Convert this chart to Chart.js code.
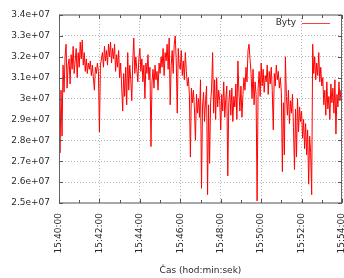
<!DOCTYPE html>
<html>
<head>
<meta charset="utf-8">
<script src="https://cdn.jsdelivr.net/npm/chart.js@4.4.0/dist/chart.umd.min.js"></script>
<style>
html, body { margin: 0; padding: 0; background: #fff; }
#obal { width: 344px; height: 278px; position: relative; }
</style>
</head>
<body>
<div id="obal"><canvas id="bytyChart"></canvas></div>
<script>
// ========== DATA ==========
const KROK_S = 3;            // jeden vzorek každé 3 s od 15:40:00
const DELKA_S = 840;         // 15:40:00 .. 15:54:00
const casoveZnacky = ['15:40:00', '15:42:00', '15:44:00', '15:46:00', '15:48:00', '15:50:00', '15:52:00', '15:54:00'];
const yZnacky = ['2.5e+07', '2.6e+07', '2.7e+07', '2.8e+07', '2.9e+07', '3e+07', '3.1e+07', '3.2e+07', '3.3e+07', '3.4e+07'];
const nazevRady = 'Byty';
const popisX = 'Čas (hod:min:sek)';

// hodnoty v milionech bytů
const bytyMiliony = [
    31.1, 27.4, 30.4, 28.2, 31.6, 30.3, 32.0, 32.6, 30.5, 31.6,
    31.9, 30.7, 32.1, 31.4, 32.5, 31.2, 31.8, 32.4, 31.0, 32.2,
    31.5, 32.7, 31.9, 32.8, 31.6, 32.2, 31.3, 31.9, 31.2, 31.7,
    31.4, 31.8, 31.1, 31.6, 31.0, 30.4, 31.5, 31.2, 31.7, 31.3,
    28.4, 31.6, 31.9, 32.2, 31.5, 32.5, 31.8, 32.3, 31.6, 32.6,
    32.0, 32.7, 31.7, 32.4, 31.9, 32.6, 31.3, 32.1, 31.5, 32.3,
    31.0, 31.7, 30.6, 29.4, 31.2, 30.1, 31.5, 29.7, 32.2, 30.4,
    31.6, 30.9, 29.9, 31.8, 32.9, 31.2, 32.0, 31.4, 30.8, 31.9,
    32.4, 31.3, 31.9, 30.8, 31.6, 30.0, 31.7, 31.2, 32.1, 30.9,
    31.5, 27.7, 30.8, 31.4, 30.5, 31.6, 30.9, 31.3, 30.4, 31.7,
    31.2, 32.0, 31.5, 32.4, 31.1, 32.2, 31.8, 32.6, 31.4, 32.9,
    29.7, 31.6, 32.3, 31.2, 32.6, 33.0, 31.8, 29.3, 32.4, 31.5,
    31.4, 32.3, 31.1, 31.8, 30.9, 32.2, 31.3, 30.6, 31.0, 30.2,
    27.2, 30.5, 29.8, 30.4, 29.5, 28.0, 30.2, 29.3, 30.0, 29.1,
    30.9, 25.7, 29.6, 30.3, 28.9, 29.9, 30.6, 25.4, 29.7, 26.9,
    29.8, 30.5, 32.2, 29.3, 30.9, 29.0, 31.0, 29.6, 30.4, 29.9,
    28.5, 30.2, 29.4, 30.8, 29.1, 30.0, 30.6, 26.3, 29.8, 30.4,
    29.2, 30.5, 28.9, 30.1, 29.6, 30.7, 29.0, 31.8, 30.3, 29.4,
    30.6, 29.1, 30.2, 31.0, 30.4, 31.5, 30.8, 32.3, 32.6, 31.9,
    31.2, 30.0, 31.4, 29.7, 30.8, 30.2, 25.1, 30.5, 31.3, 30.1,
    31.7, 30.6, 31.4, 30.3, 31.1, 30.8, 31.6, 30.2, 31.3, 30.7,
    31.5, 30.4, 28.5, 31.2, 30.6, 31.6, 30.9, 31.3, 30.5, 31.0,
    30.3, 26.5, 29.8, 27.3, 32.0, 30.1, 29.2, 30.4, 28.8, 29.9,
    29.3, 30.2, 28.6, 26.6, 29.5, 27.2, 30.0, 28.4, 29.6, 28.9,
    29.4, 28.1, 29.0, 27.6, 28.8, 27.3, 28.5, 25.9, 28.2, 27.4,
    25.4, 32.6, 31.2, 32.0, 30.9, 31.7, 31.1, 32.2, 30.8, 31.5,
    30.6, 31.0, 29.7, 30.4, 29.2, 30.8, 29.5, 30.1, 29.0, 30.7,
    29.8, 30.5, 29.3, 30.9, 28.3, 30.2, 29.6, 30.8, 29.9, 30.4, 29.7
];

const PISMO = '"DejaVu Sans", sans-serif';
const BARVA_TEXTU = '#2a2a2a';
const BARVA_RADY = '#ff0000';

// ========== PLUGIN: rámeček, značky, popisky ==========
const gnuplotRam = {
    id: 'gnuplotRam',
    afterDatasetsDraw(chart) {
        const ctx = chart.ctx;
        const a = chart.chartArea;
        const sx = chart.scales.x;
        const sy = chart.scales.y;
        ctx.save();
        ctx.setLineDash([]);

        // rámeček
        ctx.strokeStyle = '#a8a8a8';
        ctx.lineWidth = 2;
        ctx.beginPath();
        ctx.moveTo(a.left, a.top); ctx.lineTo(a.right, a.top);
        ctx.moveTo(a.left, a.bottom); ctx.lineTo(a.right, a.bottom);
        ctx.stroke();
        ctx.strokeStyle = '#666';
        ctx.lineWidth = 1;
        ctx.beginPath();
        ctx.moveTo(a.left + 0.5, a.top); ctx.lineTo(a.left + 0.5, a.bottom);
        ctx.moveTo(a.right - 0.5, a.top); ctx.lineTo(a.right - 0.5, a.bottom);
        ctx.stroke();

        // značky na ose y (dovnitř)
        ctx.strokeStyle = '#555';
        ctx.beginPath();
        sy.ticks.forEach(t => {
            const y = Math.round(sy.getPixelForValue(t.value)) + 0.5;
            ctx.moveTo(a.left, y); ctx.lineTo(a.left + 4, y);
            ctx.moveTo(a.right, y); ctx.lineTo(a.right - 4, y);
        });
        // značky na ose x, hlavní po 2 min, vedlejší po 1 min
        for (let s = 0; s <= DELKA_S; s += 60) {
            const x = Math.round(sx.getPixelForValue(s)) + 0.5;
            const d = (s % 120 === 0) ? 4 : 3;
            ctx.moveTo(x, a.bottom); ctx.lineTo(x, a.bottom - d);
            ctx.moveTo(x, a.top); ctx.lineTo(x, a.top + d);
        }
        ctx.stroke();

        // popisky osy x (otočené)
        ctx.fillStyle = BARVA_TEXTU;
        ctx.font = '9px ' + PISMO;
        ctx.textAlign = 'right';
        ctx.textBaseline = 'middle';
        casoveZnacky.forEach((txt, i) => {
            const x = sx.getPixelForValue(i * 120);
            ctx.save();
            ctx.translate(x, a.bottom + 10);
            ctx.rotate(-Math.PI / 2);
            ctx.fillText(txt, 0, 0);
            ctx.restore();
        });

        // název osy x
        ctx.textAlign = 'center';
        ctx.fillText(popisX, (a.left + a.right) / 2, 271);
        ctx.restore();
    },
    afterDraw(chart) {
        // legenda
        const ctx = chart.ctx;
        ctx.save();
        ctx.setLineDash([]);
        ctx.fillStyle = BARVA_TEXTU;
        ctx.font = '9px ' + PISMO;
        ctx.textAlign = 'right';
        ctx.textBaseline = 'middle';
        ctx.fillText(nazevRady, 296, 23);
        ctx.fillStyle = BARVA_RADY;
        ctx.globalAlpha = 0.75;
        ctx.fillRect(302, 23, 28, 1);
        ctx.restore();
    }
};

// ========== GRAF ==========
function vytvorGraf() {
    const ctx = document.getElementById('bytyChart');
    const body = bytyMiliony.map((v, i) => ({ x: i * KROK_S, y: v * 1e6 }));

    new Chart(ctx.getContext('2d'), {
        type: 'line',
        data: {
            datasets: [{
                label: nazevRady,
                data: body,
                borderColor: BARVA_RADY,
                borderWidth: 1,
                pointRadius: 0,
                tension: 0,
                fill: false
            }]
        },
        options: {
            responsive: true,
            maintainAspectRatio: false,
            animation: false,
            layout: { padding: { top: 15, right: 2, left: 0, bottom: 0 } },
            plugins: {
                legend: { display: false },
                tooltip: { enabled: false }
            },
            scales: {
                x: {
                    type: 'linear',
                    min: 0,
                    max: DELKA_S,
                    ticks: { display: false, stepSize: 120 },
                    grid: { color: '#b4b4b4', drawTicks: false },
                    border: { display: false, dash: [1, 2] },
                    afterFit: s => { s.height = 75; }
                },
                y: {
                    min: 2.5e7,
                    max: 3.4e7,
                    ticks: {
                        stepSize: 1e6,
                        padding: 9,
                        color: BARVA_TEXTU,
                        font: { size: 9, family: PISMO },
                        callback: (v, i) => yZnacky[i]
                    },
                    grid: { color: '#b4b4b4', drawTicks: false },
                    border: { display: false, dash: [1, 2] },
                    afterFit: s => { s.width = 59; }
                }
            }
        },
        plugins: [gnuplotRam]
    });
}

vytvorGraf();
</script>
</body>
</html>
